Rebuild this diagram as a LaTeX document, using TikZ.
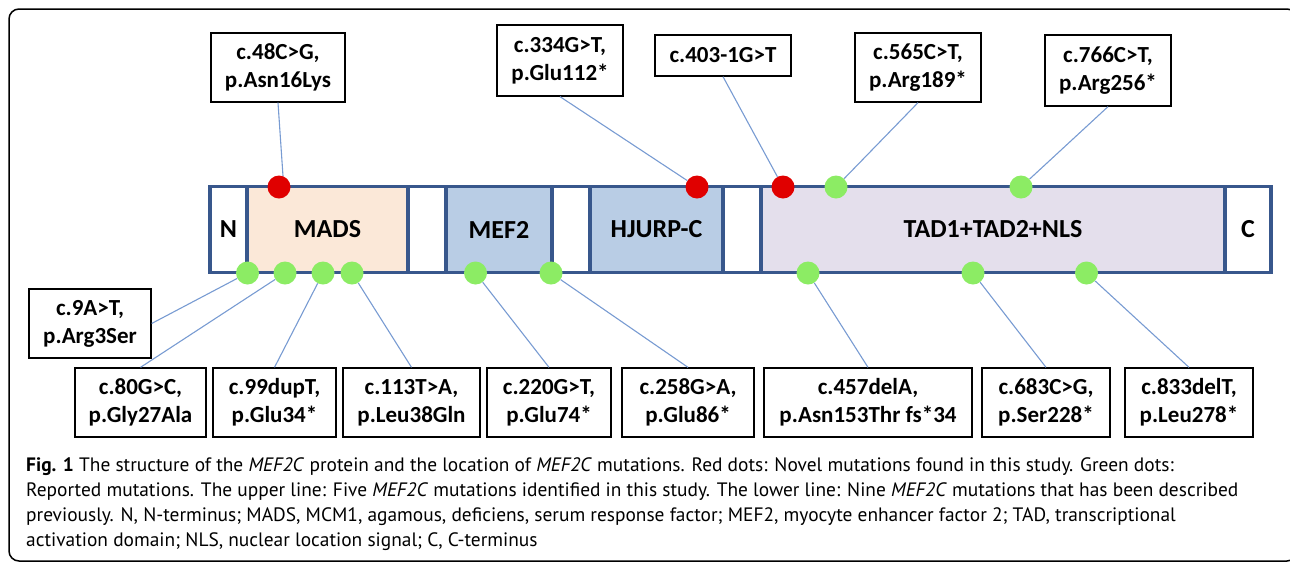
\documentclass[tikz,border=0pt]{standalone}
\usepackage{fontspec}
\setmainfont{Carlito}
\newfontfamily\capfont{PT Sans}
\definecolor{barline}{RGB}{56,87,140}
\definecolor{madsfill}{RGB}{251,232,216}
\definecolor{meffill}{RGB}{185,205,229}
\definecolor{tadfill}{RGB}{228,223,236}
\definecolor{reddot}{RGB}{224,0,0}
\definecolor{greendot}{RGB}{140,236,100}
\definecolor{conn}{RGB}{120,155,210}
\tikzset{
  seg/.style={draw=barline, line width=3.5pt, minimum height=86pt, inner sep=0pt, anchor=center, font=\bfseries\fontsize{26}{30}\selectfont},
  rdot/.style={circle, fill=reddot, minimum size=23pt, inner sep=0pt},
  gdot/.style={circle, fill=greendot, minimum size=23pt, inner sep=0pt},
  lab/.style={draw=black, line width=1.3pt, align=center, inner sep=0pt, fill=white, font=\bfseries\fontsize{23}{28}\selectfont},
  twoline/.style={lab, minimum height=69pt},
  conline/.style={draw=conn, line width=1.1pt},
  capline/.style={anchor=base west, inner sep=0pt, font=\capfont\fontsize{19.4}{25}\selectfont}
}
\begin{document}
\begin{tikzpicture}[x=1pt, y=-1pt]
\useasboundingbox (0,0) rectangle (1290,563);
\draw[line width=1.5pt, rounded corners=10pt] (9,9) rectangle (1297,561);

% protein bar
\node[seg, minimum width=37pt] (sN) at (228.5,229.5) {N};
\node[seg, fill=madsfill, minimum width=161pt] (sMADS) at (327.5,229.5) {MADS};
\node[seg, minimum width=38pt] (sG1) at (427,229.5) {};
\node[seg, fill=meffill, minimum width=106pt] (sMEF) at (499,229.5) {MEF2};
\node[seg, minimum width=38pt] (sG2) at (571,229.5) {};
\node[seg, fill=meffill, minimum width=133pt] (sHJ) at (656.5,229.5) {HJURP-C};
\node[seg, minimum width=38pt] (sG3) at (742,229.5) {};
\node[seg, fill=tadfill, minimum width=464pt] (sTAD) at (993,229.5) {TAD1+TAD2+NLS};
\node[seg, minimum width=46pt] (sC) at (1248,229.5) {C};

% dots top
\node[rdot] (r1) at (279,187) {};
\node[rdot] (r2) at (697,187) {};
\node[rdot] (r3) at (783,187) {};
\node[gdot] (t1) at (836,187) {};
\node[gdot] (t2) at (1021,187) {};
% dots bottom
\node[gdot] (g1) at (247.5,273) {};
\node[gdot] (g2) at (285,273) {};
\node[gdot] (g3) at (323,273) {};
\node[gdot] (g4) at (352,273) {};
\node[gdot] (g5) at (475.5,273) {};
\node[gdot] (g6) at (551,273) {};
\node[gdot] (g7) at (808,273) {};
\node[gdot] (g8) at (973,273) {};
\node[gdot] (g9) at (1086.5,273) {};

% top labels
\node[twoline, minimum width=134pt] (b48) at (278,67.5) {c.48C>G,\\p.Asn16Lys};
\node[lab, minimum width=126pt, minimum height=71pt] (b334) at (560,60.5) {c.334G>T,\\p.Glu112*};
\node[lab, minimum width=136pt, minimum height=41pt] (b403) at (723,55.5) {c.403-1G>T};
\node[twoline, minimum width=126pt] (b565) at (918,67.5) {c.565C>T,\\p.Arg189*};
\node[lab, minimum width=126pt, minimum height=71pt] (b766) at (1108,70.5) {c.766C>T,\\p.Arg256*};

% bottom labels
\node[twoline, minimum width=122pt] (b9) at (90,323.5) {c.9A>T,\\p.Arg3Ser};
\node[twoline, minimum width=131pt] (b80) at (140.5,402.5) {c.80G>C,\\p.Gly27Ala};
\node[twoline, minimum width=123pt] (b99) at (274.5,402.5) {c.99dupT,\\p.Glu34*};
\node[twoline, minimum width=137pt] (b113) at (411.5,402.5) {c.113T>A,\\p.Leu38Gln};
\node[twoline, minimum width=124pt] (b220) at (549,402.5) {c.220G>T,\\p.Glu74*};
\node[twoline, minimum width=132pt] (b258) at (688,402.5) {c.258G>A,\\p.Glu86*};
\node[twoline, minimum width=208pt] (b457) at (868,402.5) {c.457delA,\\p.Asn153Thr fs*34};
\node[twoline, minimum width=128pt] (b683) at (1046,402.5) {c.683C>G,\\p.Ser228*};
\node[twoline, minimum width=128pt] (b833) at (1189,402.5) {c.833delT,\\p.Leu278*};

% connectors
\draw[conline] (b48.south) -- (r1.70);
\draw[conline] (b334.south) -- (r2);
\draw[conline] (b403.south) -- (r3);
\draw[conline] (b565.south) -- (t1);
\draw[conline] (b766.south) -- (t2);
\draw[conline] (b9.east) -- (g1);
\draw[conline] (b80.north) -- (g2);
\draw[conline] (b99.north) -- (g3);
\draw[conline] (b113.north) -- (g4);
\draw[conline] (b220.north) -- (g5);
\draw[conline] (b258.north) -- (g6);
\draw[conline] (b457.north) -- (g7);
\draw[conline] (b683.north) -- (g8);
\draw[conline] (b833.north) -- (g9);

% caption
\node[capline] (cap1) at (26,471) {\textbf{Fig. 1} The structure of the \textit{MEF2C} protein and the location of \textit{MEF2C} mutations. Red dots: Novel mutations found in this study. Green dots:};
\node[capline] (cap2) at (26,496) {Reported mutations. The upper line: Five \textit{MEF2C} mutations identified in this study. The lower line: Nine \textit{MEF2C} mutations that has been described};
\node[capline] (cap3) at (26,521) {previously. N, N-terminus; MADS, MCM1, agamous, deficiens, serum response factor; MEF2, myocyte enhancer factor 2; TAD, transcriptional};
\node[capline] (cap4) at (26,546) {activation domain; NLS, nuclear location signal; C, C-terminus};
\end{tikzpicture}
\end{document}
